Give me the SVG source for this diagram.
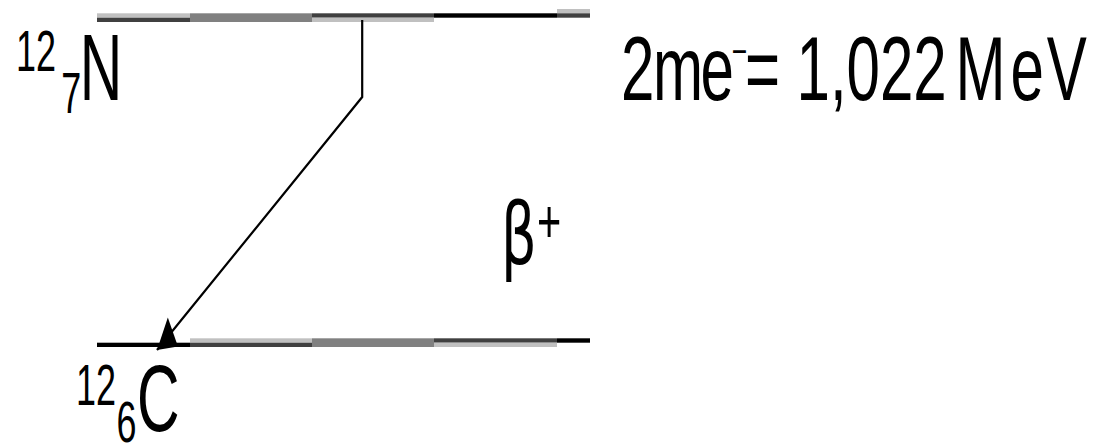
<svg xmlns="http://www.w3.org/2000/svg" width="1093" height="447" viewBox="0 0 1093 447">
<style>
text{font-family:"Liberation Sans",Arial,sans-serif;fill:#000}
.lt{fill:#c0c0c0}.dk{fill:#404040}.md{fill:#808080}.bk{fill:#000}
.conn{fill:none;stroke:#000;stroke-width:2.2;stroke-linejoin:miter}
</style>
<defs>
<marker id="arrow" markerUnits="userSpaceOnUse" orient="auto" viewBox="-34 -16 36 32" refX="0" refY="0" markerWidth="36" markerHeight="32" overflow="visible">
<path d="M0,0 L-32,12 L-16,-14 Z" fill="#000"/>
</marker>
</defs>
<rect width="1093" height="447" fill="#fff"/>
<g id="level-N">
<rect class="lt" x="97" y="13.3" width="93" height="4.4"/>
<rect class="dk" x="97" y="17.7" width="93" height="4.3"/>
<rect class="md" x="190" y="13.3" width="122" height="8.7"/>
<rect class="dk" x="312" y="13.3" width="122" height="4.4"/>
<rect class="lt" x="312" y="17.7" width="122" height="4.3"/>
<rect class="bk" x="434" y="13.3" width="123" height="4.4"/>
<rect class="lt" x="557" y="9" width="33" height="4.3"/>
<rect class="dk" x="557" y="13.3" width="33" height="4.4"/>
<text transform="scale(0.62,1)"><tspan x="26" y="71" font-size="58">12</tspan><tspan x="98.7" y="113" font-size="58">7</tspan><tspan x="128.5" y="100" font-size="95">N</tspan></text>
</g>
<g id="level-C">
<rect class="bk" x="97" y="342.7" width="93" height="4.3"/>
<rect class="lt" x="190" y="338.3" width="122" height="4.4"/>
<rect class="dk" x="190" y="342.7" width="122" height="4.3"/>
<rect class="md" x="312" y="338.3" width="122" height="8.7"/>
<rect class="dk" x="434" y="338.3" width="123" height="4.4"/>
<rect class="lt" x="434" y="342.7" width="123" height="4.3"/>
<rect class="bk" x="557" y="338.3" width="33" height="4.4"/>
<text transform="scale(0.62,1)"><tspan x="122.7" y="405" font-size="58">12</tspan><tspan x="188" y="442" font-size="58">6</tspan><tspan x="221.1" y="431" font-size="95">C</tspan></text>
</g>
<g id="connectors">
<path class="conn" d="M362.2,20 L362.2,97 L157,350" marker-end="url(#arrow)"/>
</g>
<g id="label-beta">
<text transform="scale(0.66,1)" x="759" y="264" font-size="85" style="font-family:'DejaVu Sans',sans-serif">β</text>
<text transform="scale(0.67,1)" x="801.5" y="242" font-size="62">+</text>
</g>
<g id="label-energy">
<text transform="scale(0.66,1)" font-size="91"><tspan x="940.9" y="100">2</tspan><tspan x="989.4" y="100">m</tspan><tspan x="1061.5" y="100">e</tspan><tspan x="1128.8" y="100">=</tspan><tspan x="1206.8" y="100">1,022</tspan><tspan x="1447.9" y="100">M</tspan><tspan x="1531.2" y="100">e</tspan><tspan x="1585.9" y="100">V</tspan></text>
<text transform="scale(0.66,1)" font-size="40" x="1108.6" y="65">−</text>
</g>
</svg>
